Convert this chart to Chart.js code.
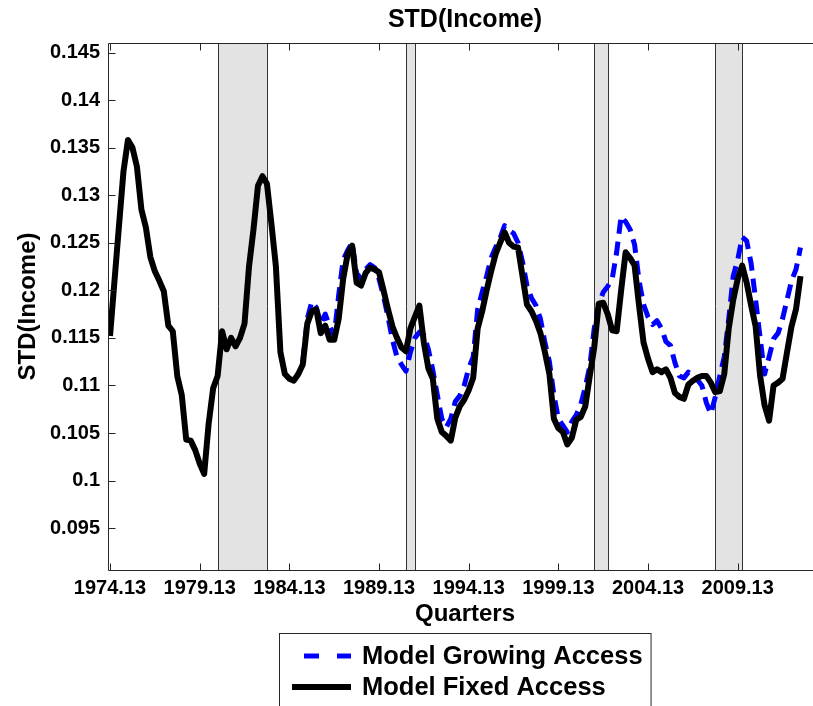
<!DOCTYPE html>
<html>
<head>
<meta charset="utf-8">
<title>STD(Income)</title>
<script src="https://cdn.jsdelivr.net/npm/chart.js@4.4.1/dist/chart.umd.min.js"></script>
<style>
  html,body{margin:0;padding:0;background:#fff;overflow:hidden}
  #wrap{width:830px;height:706px}
</style>
</head>
<body>
<div id="wrap"><canvas id="c" width="830" height="706"></canvas></div>
<script>
// quarter index 0 = 1974Q1, one step per quarter
const xTickIdx = [0,20,40,60,80,100,120,140]
const xTickLabels = ['1974.13','1979.13','1984.13','1989.13','1994.13','1999.13','2004.13','2009.13']
const yTicks = [0.095,0.1,0.105,0.11,0.115,0.12,0.125,0.13,0.135,0.14,0.145]

// recession bands (start/end quarter index)
const recessions = [[24,35],[66,68],[108,111],[135,141]]

// Model Fixed Access, quarters 0..154
const fixedAccess = [
  0.1152,0.1210,0.1268,0.1325,0.1358,0.1350,0.1330,0.1285,0.1266,0.1235,
  0.1220,0.1210,0.1199,0.1163,0.1157,0.1110,0.1090,0.1043,0.1042,0.1032,
  0.1018,0.1007,0.1060,0.1097,0.1110,0.1157,0.1138,0.1150,0.1141,0.1150,
  0.1165,0.1225,0.1264,0.1310,0.1320,0.1312,0.1270,0.1225,0.1135,0.1112,
  0.1107,0.1105,0.1112,0.1122,0.1165,0.1178,0.1180,0.1155,0.1163,0.1148,
  0.1148,0.1170,0.1212,0.1238,0.1247,0.1208,0.1205,0.1218,0.1224,0.1222,
  0.1219,0.1200,0.1180,0.1162,0.1150,0.1140,0.1136,0.1160,0.1172,0.1184,
  0.1145,0.1118,0.1107,0.1065,0.1051,0.1047,0.1042,0.1066,0.1078,0.1085,
  0.1095,0.1108,0.1160,0.1178,0.1200,0.1220,0.1238,0.1250,0.1261,0.1250,
  0.1246,0.1245,0.1215,0.1185,0.1178,0.1168,0.1155,0.1135,0.1112,0.1065,
  0.1055,0.1051,0.1038,0.1045,0.1064,0.1067,0.1078,0.1110,0.1140,0.1186,
  0.1187,0.1175,0.1158,0.1157,0.1200,0.1240,0.1234,0.1226,0.1184,0.1145,
  0.1128,0.1114,0.1117,0.1114,0.1117,0.1108,0.1092,0.1088,0.1086,0.1101,
  0.1105,0.1108,0.1110,0.1110,0.1103,0.1093,0.1094,0.1112,0.1160,0.1190,
  0.1212,0.1226,0.1208,0.1184,0.1162,0.1110,0.1079,0.1063,0.1100,0.1103,
  0.1107,0.1135,0.1162,0.1180,0.1215
]

// Model Growing Access, starts at quarter 43 (same as fixed before that)
const growingStart = 43
const growingAccess = [
  0.1125,0.1170,0.1188,0.1182,0.1165,0.1175,0.1162,
  0.1152,0.1195,0.1232,0.1242,0.1250,0.1218,0.1212,0.1222,0.1227,0.1224,
  0.1212,0.1194,0.1172,0.1148,0.1130,0.1122,0.1115,0.1135,0.1150,0.1156,
  0.1153,0.1138,0.1116,0.1090,0.1065,0.1056,0.1065,0.1083,0.1089,0.1100,
  0.1118,0.1130,0.1180,0.1198,0.1215,0.1234,0.1245,0.1255,0.1268,0.1263,
  0.1260,0.1250,0.1230,0.1205,0.1192,0.1184,0.1170,0.1145,0.1125,0.1090,
  0.1065,0.1058,0.1051,0.1062,0.1069,0.1080,0.1098,0.1120,0.1160,0.1185,
  0.1198,0.1204,0.1212,0.1240,0.1278,0.1272,0.1264,0.1248,0.1210,0.1185,
  0.1172,0.1164,0.1168,0.1160,0.1146,0.1142,0.1124,0.1110,0.1108,0.1114,
  0.1110,0.1106,0.1100,0.1082,0.1070,0.1088,0.1110,0.1130,0.1170,0.1215,
  0.1232,0.1256,0.1252,0.1228,0.1190,0.1150,0.1112,0.1130,0.1149,0.1155,
  0.1170,0.1190,0.1210,0.1222,0.1245
]

const FONT = '"Liberation Sans", Arial, Helvetica, sans-serif'

const fixedPts = fixedAccess.map((v,i)=>({x:i, y:v}))
const growingPts = growingAccess.map((v,i)=>({x:i+growingStart, y:v}))

// recession bands, box frame with inward ticks, boxed legend
const decor = {
  id:'decor',
  beforeDatasetsDraw(chart){
    const {ctx, chartArea:a, scales:{x}} = chart
    ctx.save()
    recessions.forEach(([s,e])=>{
      const x0 = Math.round(x.getPixelForValue(s)), x1 = Math.round(x.getPixelForValue(e))
      ctx.fillStyle = '#e3e3e3'
      ctx.fillRect(x0, a.top, x1-x0, a.bottom-a.top)
      ctx.strokeStyle = '#333'; ctx.lineWidth = 1
      ctx.beginPath()
      ctx.moveTo(x0+.5,a.top); ctx.lineTo(x0+.5,a.bottom)
      ctx.moveTo(x1+.5,a.top); ctx.lineTo(x1+.5,a.bottom)
      ctx.stroke()
    })
    ctx.restore()
  },
  afterDatasetsDraw(chart){
    const {ctx, chartArea:a, scales:{x,y}} = chart
    ctx.save()
    ctx.strokeStyle = '#262626'; ctx.lineWidth = 1
    const L = Math.round(a.left)+.5, R = Math.round(a.right)+.5, T = Math.round(a.top)+.5, B = Math.round(a.bottom)+.5
    ctx.beginPath()
    ctx.moveTo(L,T); ctx.lineTo(R,T); ctx.lineTo(R,B); ctx.lineTo(L,B); ctx.closePath()
    xTickIdx.forEach(v=>{
      const px = Math.round(x.getPixelForValue(v))+.5
      ctx.moveTo(px,B); ctx.lineTo(px,B-7)
      ctx.moveTo(px,T); ctx.lineTo(px,T+7)
    })
    yTicks.forEach(v=>{
      const py = Math.round(y.getPixelForValue(v))+.5
      ctx.moveTo(L,py); ctx.lineTo(L+7,py)
    })
    ctx.stroke()
    ctx.restore()
  },
  afterDraw(chart){
    const {ctx, chartArea:a} = chart
    const ds = chart.data.datasets
    ctx.save()
    ctx.font = 'bold 25.5px ' + FONT
    const textW = Math.max(...ds.map(d=>ctx.measureText(d.label).width))
    const w = 13 + 59 + 11 + textW + 8
    const left = Math.round((a.left+a.right)/2 - w/2)
    const top = 633
    ctx.fillStyle = '#fff'
    ctx.fillRect(left, top, w, 90)
    ctx.strokeStyle = '#262626'; ctx.lineWidth = 1
    ctx.strokeRect(left+.5, top+.5, w, 90)
    const rows = [656, 687]
    ds.forEach((d,i)=>{
      const cy = rows[i]
      ctx.strokeStyle = d.borderColor
      ctx.lineWidth = d.borderWidth
      ctx.lineCap = 'butt'
      if(d.borderDash){ ctx.setLineDash([15,18]) } else ctx.setLineDash([])
      ctx.beginPath()
      ctx.moveTo(left + (d.borderDash ? 25 : 13), cy)
      ctx.lineTo(left + 72, cy)
      ctx.stroke()
      ctx.setLineDash([])
      ctx.fillStyle = '#000'
      ctx.textBaseline = 'middle'
      ctx.textAlign = 'left'
      ctx.fillText(d.label, left + 83, cy + 1)
    })
    ctx.restore()
  }
}

new Chart(document.getElementById('c'), {
  type:'line',
  data:{
    datasets:[
      {label:'Model Growing Access', data:growingPts, borderColor:'#0000ff', borderWidth:5,
       borderDash:[14,8], pointRadius:0, fill:false, tension:0, order:2, borderJoinStyle:'round'},
      {label:'Model Fixed Access', data:fixedPts, borderColor:'#000000', borderWidth:6,
       pointRadius:0, fill:false, tension:0, order:1, borderJoinStyle:'round'}
    ]
  },
  options:{
    responsive:false,
    animation:false,
    layout:{padding:{top:0, right:8, left:0, bottom:0}},
    plugins:{
      legend:{display:false},
      tooltip:{enabled:false},
      title:{display:true, text:'STD(Income)', fullSize:false, color:'#000',
        font:{family:FONT, size:25, weight:'bold'}, padding:{top:5, bottom:8}}
    },
    scales:{
      x:{
        type:'linear', min:-0.45, max:158.8,
        afterBuildTicks: s => { s.ticks = xTickIdx.map(v=>({value:v})) },
        afterFit: s => { s.height = 136 },
        ticks:{autoSkip:false, maxRotation:0, color:'#000', padding:6,
          font:{family:FONT, size:20, weight:'bold'},
          callback: v => xTickLabels[xTickIdx.indexOf(v)]},
        grid:{display:false, drawTicks:false},
        border:{display:false},
        title:{display:true, text:'Quarters', color:'#000',
          font:{family:FONT, size:24, weight:'bold'}, padding:{top:0, bottom:77}}
      },
      y:{
        min:0.0906, max:0.146,
        afterBuildTicks: s => { s.ticks = yTicks.map(v=>({value:v})) },
        afterFit: s => { s.width = 108 },
        ticks:{color:'#000', padding:8, font:{family:FONT, size:20, weight:'bold'},
          callback: v => String(+v.toFixed(3))},
        grid:{display:false, drawTicks:false},
        border:{display:false},
        title:{display:true, text:'STD(Income)', color:'#000',
          font:{family:FONT, size:24, weight:'bold'}, padding:{top:14, bottom:0}}
      }
    }
  },
  plugins:[decor]
})
</script>
</body>
</html>
